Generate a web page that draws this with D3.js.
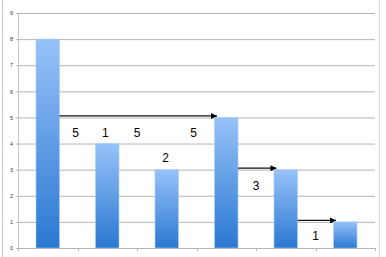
<!DOCTYPE html>
<html>
<head>
<meta charset="utf-8">
<script src="https://cdn.jsdelivr.net/npm/d3@7"></script>
<style>
  html, body { margin: 0; padding: 0; background: #fff; }
  svg { display: block; }
</style>
</head>
<body>
<div id="chart"></div>
<script>
// Chart data.
var categories = [ 'c1', 'c2', 'c3', 'c4', 'c5', 'c6' ];
var values = [ 8, 4, 3, 5, 3, 1 ];
var y_ticks = [ 0, 1, 2, 3, 4, 5, 6, 7, 8, 9 ];

// Arrows go from one bar to a later one, at the height of the later bar.
var arrow_from = [ 0, 3, 4 ];
var arrow_to = [ 3, 4, 5 ];

// Free annotations: text, position in category units, baseline in value units.
var note_texts = [ '5', '1', '5', '5', '2', '3', '1' ];
var note_pos = [ 0.97, 1.47, 2.0, 2.95, 2.48, 4.0, 5.0 ];
var note_level = [ 4.26, 4.26, 4.26, 4.26, 3.31, 2.23, 0.32 ];

var width = 386, height = 257;
var margin = { top: 13, right: 11, bottom: 9, left: 18 };
var plot_width = width - margin.left - margin.right;
var plot_height = height - margin.top - margin.bottom;

var svg = d3.select( '#chart' )
  .append( 'svg' )
    .attr( 'width', width )
    .attr( 'height', height );

// Faint frame lines at the sides of the picture.
svg.append( 'line' )
  .attr( 'x1', 2.5 ).attr( 'x2', 2.5 ).attr( 'y1', 0 ).attr( 'y2', height )
  .attr( 'stroke', '#c8c8c8' );
svg.append( 'line' )
  .attr( 'x1', 379.5 ).attr( 'x2', 379.5 ).attr( 'y1', 0 ).attr( 'y2', height )
  .attr( 'stroke', '#dcdcdc' );

var defs = svg.append( 'defs' );
var grad = defs.append( 'linearGradient' )
  .attr( 'id', 'bar_grad' )
  .attr( 'x1', 0 ).attr( 'y1', 0 ).attr( 'x2', 0 ).attr( 'y2', 1 );
grad.append( 'stop' ).attr( 'offset', '0%' ).attr( 'stop-color', '#97c2f8' );
grad.append( 'stop' ).attr( 'offset', '100%' ).attr( 'stop-color', '#2a78d2' );

defs.append( 'marker' )
  .attr( 'id', 'arrow_head' )
  .attr( 'viewBox', '0 0 10 10' )
  .attr( 'refX', 10 ).attr( 'refY', 5 )
  .attr( 'markerUnits', 'userSpaceOnUse' )
  .attr( 'markerWidth', 8 ).attr( 'markerHeight', 6 )
  .attr( 'orient', 'auto' )
  .append( 'path' )
    .attr( 'd', 'M0,0 L10,5 L0,10 Z' )
    .attr( 'fill', '#000' );

var g = svg.append( 'g' )
  .attr( 'transform', 'translate(' + margin.left + ',' + margin.top + ')' );

var x_scale = d3.scaleBand()
  .domain( categories )
  .range( [ 0, plot_width ] )
  .paddingInner( 0.605 )
  .paddingOuter( 0.3025 );

// Category units (0 .. n) to pixels, for the free annotations.
var x_units = d3.scaleLinear()
  .domain( [ 0, categories.length ] )
  .range( [ 0, plot_width ] );

var y_scale = d3.scaleLinear()
  .domain( [ 0, 9 ] )
  .range( [ plot_height, 0 ] );

// Grid lines.
g.append( 'g' )
  .attr( 'class', 'grid' )
  .call( d3.axisLeft( y_scale ).tickValues( y_ticks ).tickSize( -plot_width ).tickFormat( '' ) )
  .call( function( s ){ s.select( '.domain' ).remove(); } )
  .selectAll( 'line' )
    .attr( 'stroke', '#b4b4b4' );

// Y axis with tiny labels.
var y_axis = g.append( 'g' )
  .call( d3.axisLeft( y_scale ).tickValues( y_ticks ).tickSize( 2 ).tickPadding( 3 ).tickSizeOuter( 0 ) );
y_axis.select( '.domain' ).attr( 'stroke', '#c4c4c4' );
y_axis.selectAll( 'line' ).attr( 'stroke', '#b4b4b4' );
y_axis.selectAll( 'text' )
  .attr( 'font-family', 'Liberation Sans, Arial, sans-serif' )
  .attr( 'font-size', '5.5px' )
  .attr( 'fill', '#333' );

// X axis: no labels, ticks at the band boundaries.
var boundaries = d3.range( categories.length + 1 );
var x_axis = g.append( 'g' )
  .attr( 'transform', 'translate(0,' + plot_height + ')' );
x_axis.append( 'line' )
  .attr( 'x1', 0 ).attr( 'x2', plot_width )
  .attr( 'y1', 0.5 ).attr( 'y2', 0.5 )
  .attr( 'stroke', '#b4b4b4' );
x_axis.selectAll( 'line.tick' )
  .data( boundaries )
  .enter()
  .append( 'line' )
    .attr( 'class', 'tick' )
    .attr( 'x1', function( d ){ return Math.round( x_units( d ) ) + 0.5; } )
    .attr( 'x2', function( d ){ return Math.round( x_units( d ) ) + 0.5; } )
    .attr( 'y1', 0 ).attr( 'y2', 3 )
    .attr( 'stroke', '#b4b4b4' );

// Bars.
g.append( 'g' )
  .selectAll( 'rect' )
  .data( values )
  .enter()
  .append( 'rect' )
    .attr( 'x', function( d, i ){ return x_scale( categories[ i ] ); } )
    .attr( 'y', function( d ){ return y_scale( d ); } )
    .attr( 'width', x_scale.bandwidth() )
    .attr( 'height', function( d ){ return plot_height - y_scale( d ); } )
    .attr( 'fill', 'url(#bar_grad)' )
    .attr( 'stroke', '#a9cdf8' )
    .attr( 'stroke-width', 0.6 );

// Arrows.
g.append( 'g' )
  .selectAll( 'line' )
  .data( arrow_from )
  .enter()
  .append( 'line' )
    .attr( 'x1', function( d ){ return x_scale( categories[ d ] ) + x_scale.bandwidth(); } )
    .attr( 'x2', function( d, i ){ return x_scale( categories[ arrow_to[ i ] ] ) + 2.5; } )
    .attr( 'y1', function( d, i ){ return y_scale( values[ arrow_to[ i ] ] ) - 1.5; } )
    .attr( 'y2', function( d, i ){ return y_scale( values[ arrow_to[ i ] ] ) - 1.5; } )
    .attr( 'stroke', '#111' )
    .attr( 'stroke-width', 1.2 )
    .attr( 'marker-end', 'url(#arrow_head)' );

// Annotations.
g.append( 'g' )
  .selectAll( 'text' )
  .data( note_texts )
  .enter()
  .append( 'text' )
    .attr( 'x', function( d, i ){ return x_units( note_pos[ i ] ); } )
    .attr( 'y', function( d, i ){ return y_scale( note_level[ i ] ); } )
    .attr( 'text-anchor', 'middle' )
    .attr( 'font-family', 'Liberation Sans, Arial, sans-serif' )
    .attr( 'font-size', '12px' )
    .attr( 'fill', '#000' )
    .text( function( d ){ return d; } );
</script>
</body>
</html>
